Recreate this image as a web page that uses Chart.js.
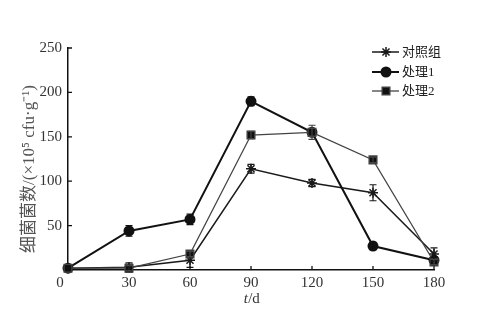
<!DOCTYPE html>
<html><head><meta charset="utf-8">
<script src="https://cdn.jsdelivr.net/npm/chart.js@4/dist/chart.umd.min.js"></script>
<style>html,body{margin:0;padding:0;background:#fff}#w{width:499px;height:320px}</style>
</head><body><div id="w"><canvas id="c"></canvas></div>
<script>
const days = [0, 30, 60, 90, 120, 150, 180];
const seriesNames = ['对照组', '处理1', '处理2'];
const controlVals = [2, 3, 11, 114, 98, 87, 18];
const controlErr  = [0, 5, 8, 5, 4, 9, 7];
const t1Vals = [2, 44, 57, 190, 155, 27, 11];
const t1Err  = [0, 6, 6, 5, 0, 4, 3];
const t2Vals = [2, 2, 18, 152, 155, 124, 9];
const t2Err  = [0, 3, 3, 4, 8, 3, 3];
const yTicks = [0, 50, 100, 150, 200, 250];
const xTicks = [30, 60, 90, 120, 150, 180];
const yTitle = '细菌菌数/(×10⁵ cfu·g⁻¹)';
const originLabel = '0';

const serif = "'Liberation Serif','Noto Sans CJK SC',serif";

function pts(v){ return days.map((d,i)=>({x:d,y:v[i]})); }

const extras = {
  id:'extras',
  afterDatasetsDraw(chart){
    const ctx = chart.ctx, ys = chart.scales.y, xs = chart.scales.x;
    const errs = [controlErr, t1Err, t2Err];
    chart.data.datasets.forEach((ds,di)=>{
      ctx.save();
      ctx.strokeStyle = ds.borderColor; ctx.lineWidth = 1.2;
      ds.data.forEach((p,i)=>{
        const e = errs[di][i]; if(!e) return;
        const x = xs.getPixelForValue(p.x);
        const y1 = ys.getPixelForValue(p.y - e), y2 = ys.getPixelForValue(p.y + e);
        ctx.beginPath();
        ctx.moveTo(x,y1); ctx.lineTo(x,y2);
        ctx.moveTo(x-3.5,y1); ctx.lineTo(x+3.5,y1);
        ctx.moveTo(x-3.5,y2); ctx.lineTo(x+3.5,y2);
        ctx.stroke();
      });
      ctx.restore();
    });
  },
  afterDraw(chart){
    const ctx = chart.ctx, ys = chart.scales.y, xs = chart.scales.x;
    const a = chart.chartArea;
    ctx.save();
    ctx.strokeStyle = '#111'; ctx.lineWidth = 1.3;
    ctx.beginPath();
    yTicks.forEach(v=>{ if(!v) return; const y = ys.getPixelForValue(v); ctx.moveTo(a.left, y); ctx.lineTo(a.left+4, y); });
    xTicks.forEach(v=>{ const x = xs.getPixelForValue(v); ctx.moveTo(x, a.bottom); ctx.lineTo(x, a.bottom-4); });
    ctx.stroke();
    ctx.fillStyle = '#333';
    ctx.font = "15px " + serif; ctx.textAlign='center'; ctx.textBaseline='middle';
    ctx.fillText(originLabel, 60, 283);
    ctx.fillText('/d', 254, 299);
    ctx.font = "italic 15px " + serif;
    ctx.textAlign='right';
    ctx.fillText('t', 248, 299);
    ctx.translate(30, 169); ctx.rotate(-Math.PI/2);
    ctx.textAlign='center'; ctx.fillStyle='#555';
    ctx.font = "17px " + serif;
    ctx.fillText(yTitle, 0, 0);
    ctx.restore();

    const rows = [52, 72, 91];
    chart.data.datasets.forEach((ds,i)=>{
      const y = rows[i];
      ctx.save();
      ctx.strokeStyle = ds.borderColor; ctx.lineWidth = ds.borderWidth;
      ctx.beginPath(); ctx.moveTo(372,y); ctx.lineTo(399,y); ctx.stroke();
      ctx.fillStyle = ds.backgroundColor; ctx.strokeStyle = ds.borderColor;
      Chart.helpers.drawPoint(ctx, {pointStyle: ds.pointStyle, radius: ds.pointRadius, borderWidth: 1.5, rotation:0}, 386, y);
      ctx.fillStyle = '#222'; ctx.font = "13px " + serif; ctx.textBaseline='middle'; ctx.textAlign='left';
      ctx.fillText(seriesNames[i], 402, y+1);
      ctx.restore();
    });
  }
};

new Chart(document.getElementById('c'), {
  type:'line',
  data:{ datasets:[
    {label:seriesNames[0], data:pts(controlVals), order:2, borderColor:'#1a1a1a', backgroundColor:'#1a1a1a', borderWidth:1.5, pointStyle:'star', pointRadius:5, pointBorderWidth:1.5, clip:false},
    {label:seriesNames[1], data:pts(t1Vals), order:1, borderColor:'#111', backgroundColor:'#111', borderWidth:2, pointStyle:'circle', pointRadius:4.5, clip:false},
    {label:seriesNames[2], data:pts(t2Vals), order:0, borderColor:'#444', backgroundColor:'#111', borderWidth:1.3, pointStyle:'rect', pointRadius:5.5, clip:false}
  ]},
  options:{
    responsive:true, maintainAspectRatio:false, animation:false,
    layout:{padding:{left:0, right:65, top:48, bottom:0}},
    plugins:{legend:{display:false}, tooltip:{enabled:false}},
    scales:{
      x:{type:'linear', min:0, max:180,
        afterBuildTicks(s){ s.ticks = xTicks.map(v=>({value:v})); },
        afterFit(s){ s.height = 50; },
        grid:{display:false, drawTicks:false},
        border:{color:'#111', width:1.5},
        ticks:{color:'#333', font:{family:serif, size:15}, padding:4}
      },
      y:{min:0, max:250,
        afterBuildTicks(s){ s.ticks = yTicks.filter(v=>v>0).map(v=>({value:v})); },
        afterFit(s){ s.width = 68; },
        grid:{display:false, drawTicks:false},
        border:{color:'#111', width:1.5},
        ticks:{color:'#333', font:{family:serif, size:15}, padding:6}
      }
    }
  },
  plugins:[extras]
});
</script></body></html>
